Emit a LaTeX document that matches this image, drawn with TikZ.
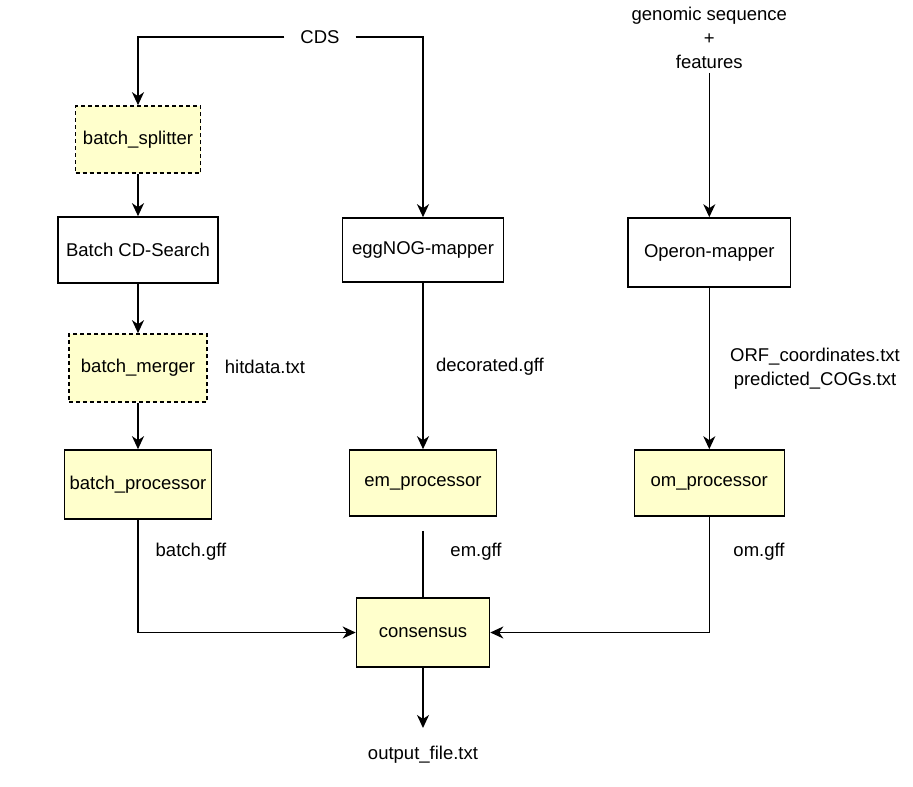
\documentclass[tikz,border=0pt]{standalone}
\usepackage{fontspec}
\setmainfont{Liberation Sans}
\usetikzlibrary{arrows.meta}
\definecolor{boxyellow}{HTML}{FFFFCC}
\tikzset{
  x=1pt, y=-1pt,
  every node/.style={font=\fontsize{18.5}{24}\selectfont, inner sep=0pt},
  plainbox/.style={draw, line width=1.6pt, fill=white},
  procbox/.style={draw, line width=1.6pt, fill=boxyellow},
  dashbox/.style={draw, line width=1.6pt, fill=boxyellow, dash pattern=on 4pt off 3pt},
  lbl/.style={align=center},
  conn/.style={line width=1.6pt, -{Stealth[length=13pt, width=12pt, inset=4pt]}},
  plainconn/.style={line width=1.6pt},
}
\begin{document}
\begin{tikzpicture}
\useasboundingbox[fill=white] (0,0) rectangle (913,787);

% boxes
\node[dashbox, minimum width=125pt, minimum height=67pt] (bsplit) at (138,139.5) {batch\_splitter};
\node[plainbox, minimum width=160pt, minimum height=66pt] (bcd) at (138,250) {Batch CD-Search};
\node[dashbox, minimum width=138pt, minimum height=68pt] (bmerge) at (138,368) {batch\_merger};
\node[procbox, minimum width=147pt, minimum height=69pt] (bproc) at (138,484.5) {batch\_processor};

\node[plainbox, minimum width=161pt, minimum height=64pt] (egg) at (423,250) {eggNOG-mapper};
\node[procbox, minimum width=147pt, minimum height=66pt] (emproc) at (423,483) {em\_processor};

\node[plainbox, minimum width=162.5pt, minimum height=69pt] (opm) at (709.3,252.5) {Operon-mapper};
\node[procbox, minimum width=150pt, minimum height=66pt] (omproc) at (709.3,483) {om\_processor};

\node[procbox, minimum width=133pt, minimum height=69pt] (cons) at (423,632.5) {consensus};

% free texts
\node[inner xsep=16pt] (cds) at (320,37) {CDS};
\node[lbl, inner ysep=4pt] (genomic) at (709.3,38) {genomic sequence\\+\\features};
\node[inner ysep=0pt] (out) at (423,755) {output\_file.txt};
\coordinate (outtop) at (423,728);

\node (hit) at (265,367) {hitdata.txt};
\node (deco) at (490,367) {decorated.gff};
\node[lbl] (orf) at (815,368.5) {ORF\_coordinates.txt\\predicted\_COGs.txt};
\node (bgff) at (191,552) {batch.gff};
\node (emgff) at (476,552) {em.gff};
\node (omgff) at (759,552) {om.gff};

% connectors
\draw[conn] (cds.west) -| (bsplit.north);
\draw[conn] (cds.east) -| (egg.north);
\draw[conn] (bsplit) -- (bcd);
\draw[conn] (bcd) -- (bmerge);
\draw[conn] (bmerge) -- (bproc);
\draw[conn] (egg) -- (emproc);
\draw[conn] (genomic.south) -- (opm.north);
\draw[conn] (opm) -- (omproc);
\draw[conn] (bproc.south) |- (cons.west);
\draw[conn] (omproc.south) |- (cons.east);
\draw[plainconn] ([yshift=-14pt]emproc.south) -- (cons.north);
\draw[conn] (cons.south) -- (outtop);
\end{tikzpicture}
\end{document}
